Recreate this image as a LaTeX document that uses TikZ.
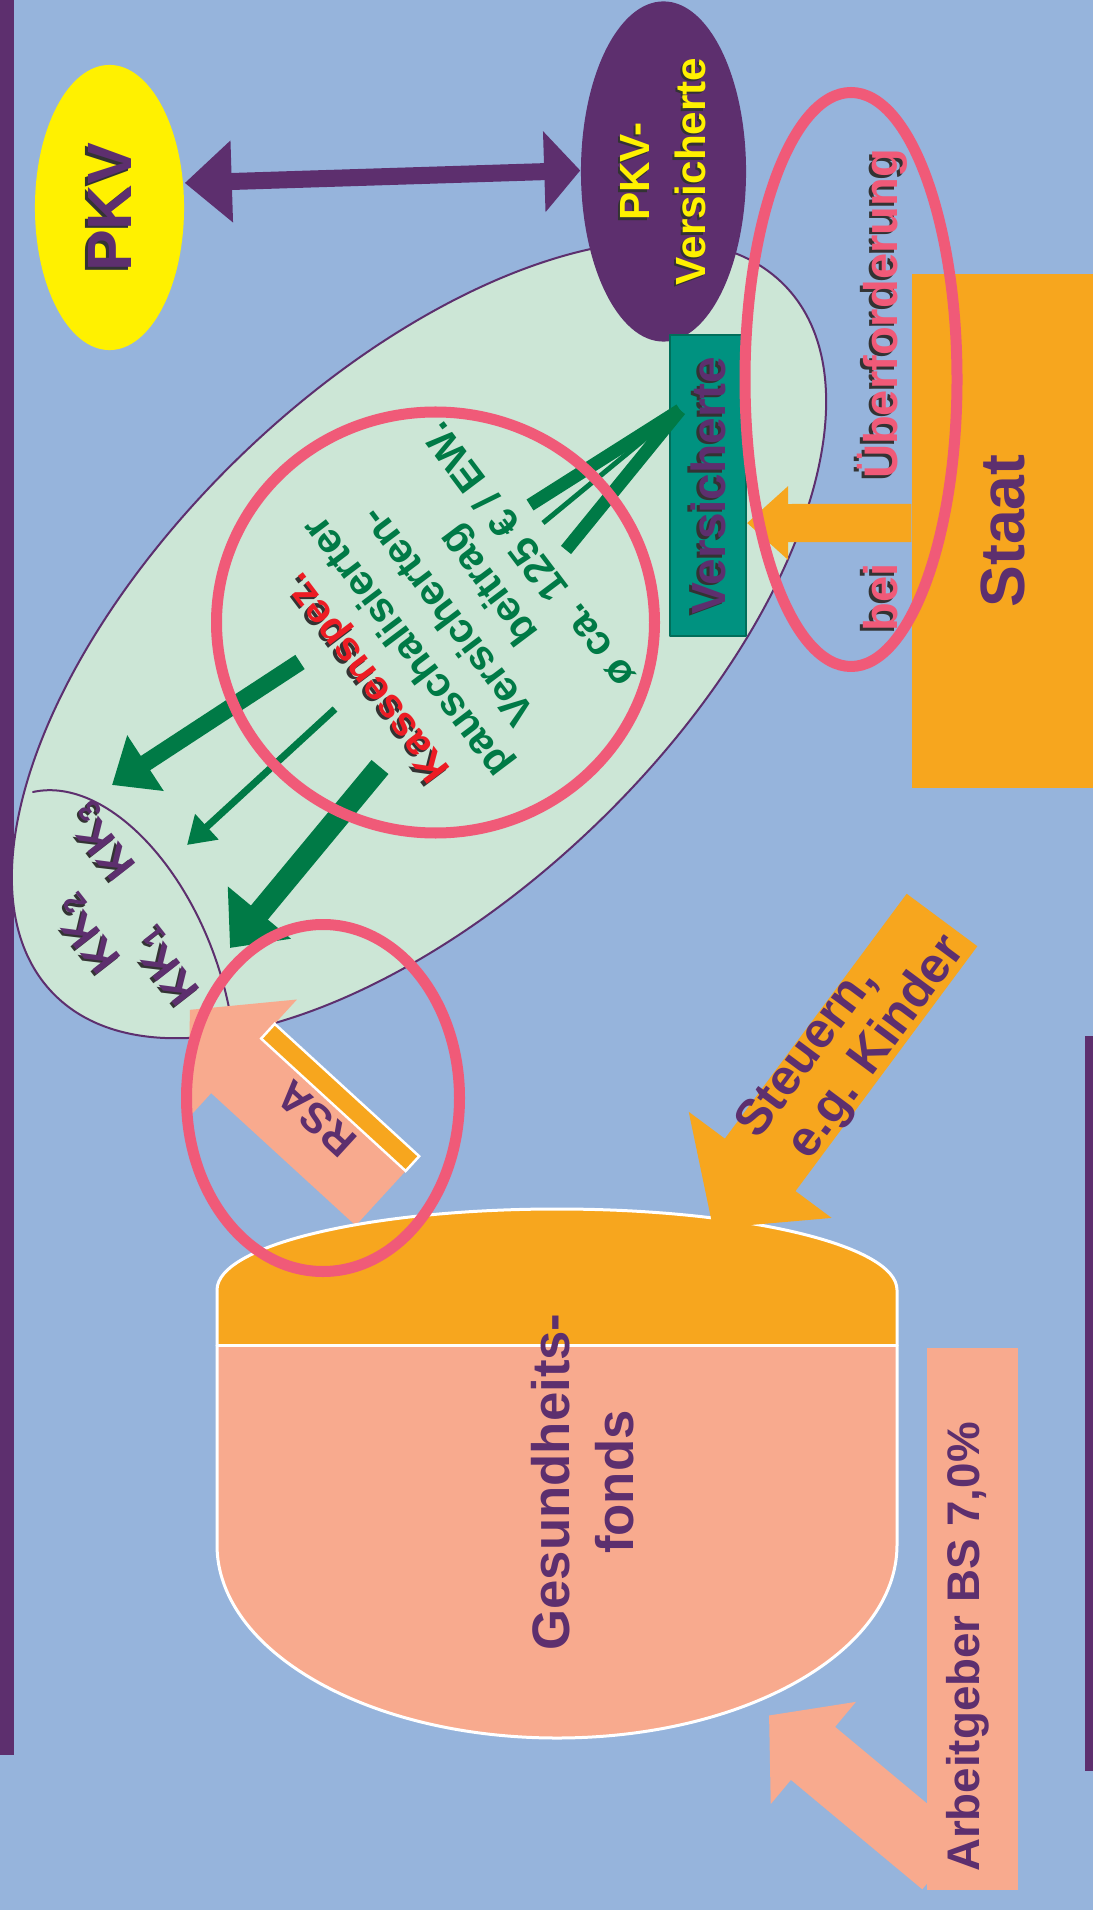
\documentclass[tikz,border=0pt]{standalone}
\usepackage{fontspec}
\setmainfont{Liberation Sans}
\usetikzlibrary{arrows.meta,shapes.geometric}
\definecolor{96b4dc}{rgb}{0.588,0.706,0.863}
\definecolor{5d2f6e}{rgb}{0.365,0.184,0.431}
\definecolor{fff100}{rgb}{1.,0.945,0.}
\definecolor{cce6d6}{rgb}{0.8,0.902,0.839}
\definecolor{qq9280}{rgb}{0.,0.573,0.502}
\definecolor{qq6e5a}{rgb}{0.,0.431,0.353}
\definecolor{qq7a46}{rgb}{0.,0.478,0.275}
\definecolor{f05a78}{rgb}{0.941,0.353,0.471}
\definecolor{ed1c24}{rgb}{0.929,0.11,0.141}
\definecolor{f7a61e}{rgb}{0.969,0.651,0.118}
\definecolor{f8aa8e}{rgb}{0.973,0.667,0.557}
\definecolor{333333}{rgb}{0.2,0.2,0.2}
\newcommand{\fsz}[2]{\fontsize{#1}{#2}\selectfont}
% text with a dark drop shadow, offset given in the node's own frame
\newcommand{\shd}[3]{\makebox[0pt][l]{\hspace*{#1}\raisebox{#2}[0pt][0pt]{\color{333333}#3}}#3}

\begin{document}
\begin{tikzpicture}[line cap=round,line join=round,x=0.01cm,y=-0.01cm,
  pinkring/.style={line width=0.11cm,draw=f05a78},
  gline/.style={draw=qq7a46,line cap=butt},
  lbl/.style={inner sep=0pt,text=5d2f6e}]
\useasboundingbox (0,0) rectangle (1093,1910);
\clip (0,0) rectangle (1093,1910);
\fill [color=96b4dc] (0,0) rectangle (1093,1910);
\fill [color=5d2f6e] (0,0) rectangle (14,1755);
\fill [color=5d2f6e] (1085,1036) rectangle (1093,1771);
% Kassen-Ellipse
\draw [line width=0.02cm,draw=5d2f6e,fill=cce6d6,rotate around={44:(419,639.5)}] (419,639.5) ellipse (509 and 256);
\draw [line width=0.02cm,color=5d2f6e] (33,792) .. controls (110,775) and (205,880) .. (230,1013);
% PKV
\node [ellipse,fill=fff100,minimum width=2.85cm,minimum height=1.49cm,rotate=90,lbl,font=\bfseries\fsz{17.8}{20}] (pkv) at (109.5,207.5) {\shd{-0.025cm}{0.025cm}{PKV}};
\node [ellipse,fill=5d2f6e,inner sep=0pt,minimum width=3.4cm,minimum height=1.65cm,rotate=90,align=center,text=fff100,font=\bfseries\fsz{12}{15.9}] (pkvvers) at (663.5,171.5) {\shd{-0.025cm}{0.025cm}{PKV-}\\\shd{-0.025cm}{0.025cm}{Versicherte}};
\draw [line width=0.17cm,color=5d2f6e,line cap=butt,{Triangle[length=0.47cm,width=0.79cm]}-{Triangle[length=0.36cm,width=0.79cm]}] ([yshift=0.245cm]pkv.south) -- ([yshift=0.01cm]pkvvers.north);
% Versicherte und Staat
\node [rectangle,draw=qq6e5a,line width=0.02cm,fill=qq9280,minimum width=3.01cm,minimum height=0.76cm,rotate=90,lbl,font=\bfseries\fsz{13.6}{16}] (vers) at (708,485.5) {\shd{-0.025cm}{0.025cm}{Versicherte}};
\node [rectangle,fill=f7a61e,minimum width=5.14cm,minimum height=1.81cm,rotate=90,lbl,font=\bfseries\fsz{17.8}{20}] (staat) at (1002.5,531) {Staat};
\draw [line width=0.38cm,color=f7a61e,line cap=butt,-{Triangle[length=0.41cm,width=0.71cm]}] ([yshift=0.08cm]staat.north) -- ([yshift=-0.375cm]vers.south);
% Beitragsstroeme
\coordinate (vtip) at (680,410);
\coordinate (fan1) at (530,505);
\coordinate (fan2) at (543,523);
\coordinate (fan3) at (566,550);
\draw [gline,line width=0.13cm] (vtip) -- (fan1);
\draw [gline,line width=0.05cm] (vtip) -- (fan2);
\draw [gline,line width=0.13cm] (vtip) -- (fan3);
\coordinate (out1) at (300,662);
\coordinate (in1) at (112,785);
\coordinate (out2) at (335,709);
\coordinate (in2) at (187,845);
\coordinate (out3) at (380,767);
\coordinate (in3) at (230,948);
\draw [gline,line width=0.17cm,-{Triangle[length=0.40cm,width=0.64cm]}] (out1) -- (in1);
\draw [gline,line width=0.07cm,-{Triangle[length=0.27cm,width=0.33cm]}] (out2) -- (in2);
\draw [gline,line width=0.22cm,-{Triangle[length=0.46cm,width=0.79cm]}] (out3) -- (in3);
\node [rotate=127,align=center,inner sep=0pt,text=qq7a46,font=\bfseries\fsz{11.7}{14.5}] (beitrag) at (447,617) {\textcolor{ed1c24}{\shd{-0.005cm}{0.035cm}{Kassenspez.}}\\pauschalisierter\\Versicherten-\\beitrag\\ø ca. 125 € / EW.};
\node [rotate=128,lbl,font=\bfseries\fsz{12.5}{14}] (kk1) at (167,965) {\shd{-0.005cm}{0.035cm}{KK\textsubscript{1}}};
\node [rotate=128,lbl,font=\bfseries\fsz{12.5}{14}] (kk2) at (88,933) {\shd{-0.005cm}{0.035cm}{KK\textsubscript{2}}};
\node [rotate=128,lbl,font=\bfseries\fsz{12.5}{14}] (kk3) at (103,840) {\shd{-0.005cm}{0.035cm}{KK\textsubscript{3}}};
% RSA
\begin{scope}[shift={(380,1199)},rotate=137.5]
\fill [color=f8aa8e] (0,-36) -- (196,-36) -- (196,-69) -- (268,11) -- (196,91) -- (196,58) -- (0,58) -- cycle;
\draw [line width=0.025cm,draw=white,fill=f7a61e,line join=miter] (0,38) rectangle (196,58);
\node [rotate=137.5,lbl,font=\bfseries\fsz{12}{14}] (rsa) at (101,16) {RSA};
\end{scope}
% Gesundheitsfonds
\fill [color=f7a61e] (217,1345) -- (217,1290) .. controls (217,1245.3) and (369.2,1209) .. (557,1209) .. controls (744.8,1209) and (897,1245.3) .. (897,1290) -- (897,1345) -- cycle;
\fill [color=f8aa8e] (217,1345) -- (897,1345) -- (897,1545) .. controls (897,1651.6) and (744.8,1738) .. (557,1738) .. controls (369.2,1738) and (217,1651.6) .. (217,1545) -- cycle;
\draw [line width=0.03cm,color=white] (217,1545) -- (217,1290) .. controls (217,1245.3) and (369.2,1209) .. (557,1209) .. controls (744.8,1209) and (897,1245.3) .. (897,1290) -- (897,1545) .. controls (897,1651.6) and (744.8,1738) .. (557,1738) .. controls (369.2,1738) and (217,1651.6) .. (217,1545) -- cycle;
\draw [line width=0.03cm,color=white] (217,1345) -- (897,1345);
\node [rotate=90,align=center,lbl,font=\bfseries\fsz{15}{18.2}] (fonds) at (583,1482) {Gesundheits-\\fonds};
% Steuern
\begin{scope}[shift={(942,920)},rotate=233.4]
\fill [color=f7a61e] (0,44) -- (305,44) -- (305,89) -- (384,0) -- (305,-89) -- (305,-44) -- (0,-44) -- cycle;
\node [rotate=53.4,align=left,lbl,font=\bfseries\fsz{14.2}{15.1}] (steuern) at (148.5,1.5) {Steuern,\\\hspace*{0.28em}e.g. Kinder};
\end{scope}
% Arbeitgeber
\begin{scope}[shift={(929,1850)},rotate=140.2]
\fill [color=f8aa8e] (-20,34.5) -- (151,34.5) -- (151,67) -- (209,1) -- (151,-66) -- (151,-34.5) -- (-20,-34.5) -- cycle;
\end{scope}
\fill [color=f8aa8e] (927,1348) rectangle (1018,1890);
\node [rotate=90,lbl,font=\bfseries\fsz{13}{15}] (arbg) at (968,1647) {Arbeitgeber BS 7,0\%};
% Markierungen
\draw [pinkring] (435.5,622.5) ellipse (219 and 210.5);
\draw [pinkring] (323,1098) ellipse (136.5 and 173.5);
\draw [pinkring] (851,379.5) ellipse (106 and 287);
\node [rotate=90,anchor=base,inner sep=0pt,text=f05a78,font=\bfseries\fsz{13.4}{16}] (ueber) at (897,314) {\shd{-0.025cm}{0.025cm}{Überforderung}};
\node [rotate=90,anchor=base,inner sep=0pt,text=f05a78,font=\bfseries\fsz{13.4}{16}] (bei) at (897,597.5) {\shd{-0.025cm}{0.025cm}{bei}};
\end{tikzpicture}
\end{document}
